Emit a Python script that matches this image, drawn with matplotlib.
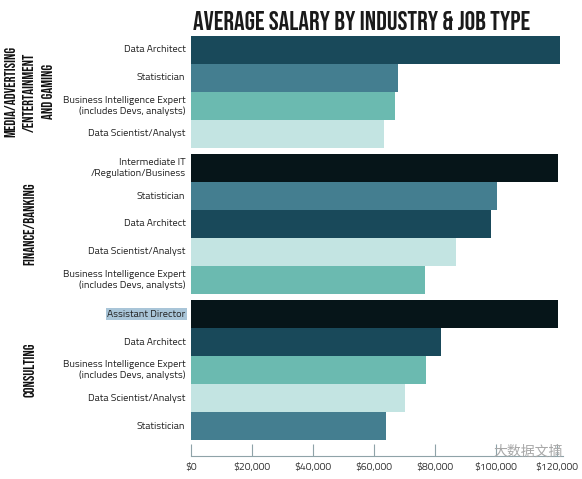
import numpy as np
import matplotlib as mpl
from matplotlib import pyplot as plt
from matplotlib import font_manager as fm
from matplotlib.ticker import FuncFormatter

# data
groups = ['MEDIA/ADVERTISING\n/ENTERTAINMENT\nAND GAMING', 'FINANCE/BANKING', 'CONSULTING']

media_jobs = ['Data Architect', 'Statistician',
              'Business Intelligence Expert\n(includes Devs, analysts)', 'Data Scientist/Analyst']
media_salary = [121000, 68000, 67000, 63300]

finance_jobs = ['Intermediate IT\n/Regulation/Business', 'Statistician', 'Data Architect',
                'Data Scientist/Analyst', 'Business Intelligence Expert\n(includes Devs, analysts)']
finance_salary = [120300, 100300, 98400, 86900, 76700]

consulting_jobs = ['Assistant Director', 'Data Architect',
                   'Business Intelligence Expert\n(includes Devs, analysts)',
                   'Data Scientist/Analyst', 'Statistician']
consulting_salary = [120300, 82000, 77000, 70200, 63900]

xticks = [0, 20000, 40000, 60000, 80000, 100000, 120000]

job_colors = {
    'Data Architect': '#19495a',
    'Statistician': '#447e90',
    'Business Intelligence Expert\n(includes Devs, analysts)': '#6bbab0',
    'Data Scientist/Analyst': '#c3e4e2',
    'Intermediate IT\n/Regulation/Business': '#061519',
    'Assistant Director': '#061519',
}

installed = set(f.name for f in fm.fontManager.ttflist)
def pick(cands):
    for c in cands:
        if c in installed:
            return c
    return 'DejaVu Sans'

title_fam = pick(['Bebas Neue', 'Oswald', 'Fjalla One', 'Anton', 'Roboto Condensed',
                  'Liberation Sans Narrow'])
label_fam = pick(['Titillium Web', 'Ubuntu', 'Open Sans'])
label_font = [label_fam, 'DejaVu Sans']
title_font = [title_fam, 'DejaVu Sans']

fig = plt.figure(figsize=(5.82, 4.79), dpi=100)
ax = fig.add_axes([0.328, 0.048, 0.639, 0.877])

gap = 0.22
pos = 0.0
group_centers = []
for jobs, salary in [(media_jobs, media_salary), (finance_jobs, finance_salary),
                     (consulting_jobs, consulting_salary)]:
    ys = pos + np.arange(len(jobs)) + 0.5
    ax.barh(ys, salary, height=1.0, color=[job_colors[j] for j in jobs], linewidth=0)
    for y, j in zip(ys, jobs):
        kw = {}
        if j == 'Assistant Director':
            kw['bbox'] = dict(facecolor='#a9c5d8', edgecolor='none', pad=1.0)
        ax.text(-1800, y, j, ha='right', va='center', fontsize=7.5, color='#222222',
                family=label_font, linespacing=1.15, **kw)
    group_centers.append(pos + len(jobs) / 2)
    pos += len(jobs) + gap
pos -= gap

ax.set_ylim(pos + 0.57, 0)
ax.set_xlim(0, 122000)
ax.set_yticks([])
ax.set_xticks(xticks)
ax.xaxis.set_major_formatter(FuncFormatter(lambda v, p: '$' + format(int(v), ',')))
ax.tick_params(axis='x', direction='in', length=9, width=0.8, color='#8fa3a8',
               labelsize=7.5, labelcolor='#333333', pad=5)
for lab in ax.get_xticklabels():
    lab.set_family(label_font)
for s in ['top', 'right', 'left']:
    ax.spines[s].set_visible(False)
ax.spines['bottom'].set_color('#8fa3a8')
ax.spines['bottom'].set_linewidth(0.8)

# industry labels, rotated on the left
for gc, g in zip(group_centers, groups):
    yf = ax.transData.transform((0, gc))[1]
    yf = fig.transFigure.inverted().transform((0, yf))[1]
    fig.text(0.049, yf, g, rotation=90, ha='center', va='center', fontsize=10.5,
             family=title_font, color='#111111', linespacing=1.7)

fig.text(0.331, 0.958, 'AVERAGE SALARY BY INDUSTRY & JOB TYPE', ha='left', va='center',
         fontsize=19, family=title_font, color='#1a1a1a')

# watermark
fig.text(0.907, 0.057, '大数据文摘', ha='center', va='center', fontsize=10,
         family=['Noto Sans CJK SC', 'DejaVu Sans'], color='#a8a8a8')

fig.savefig('out.png', dpi=100, facecolor='white')
